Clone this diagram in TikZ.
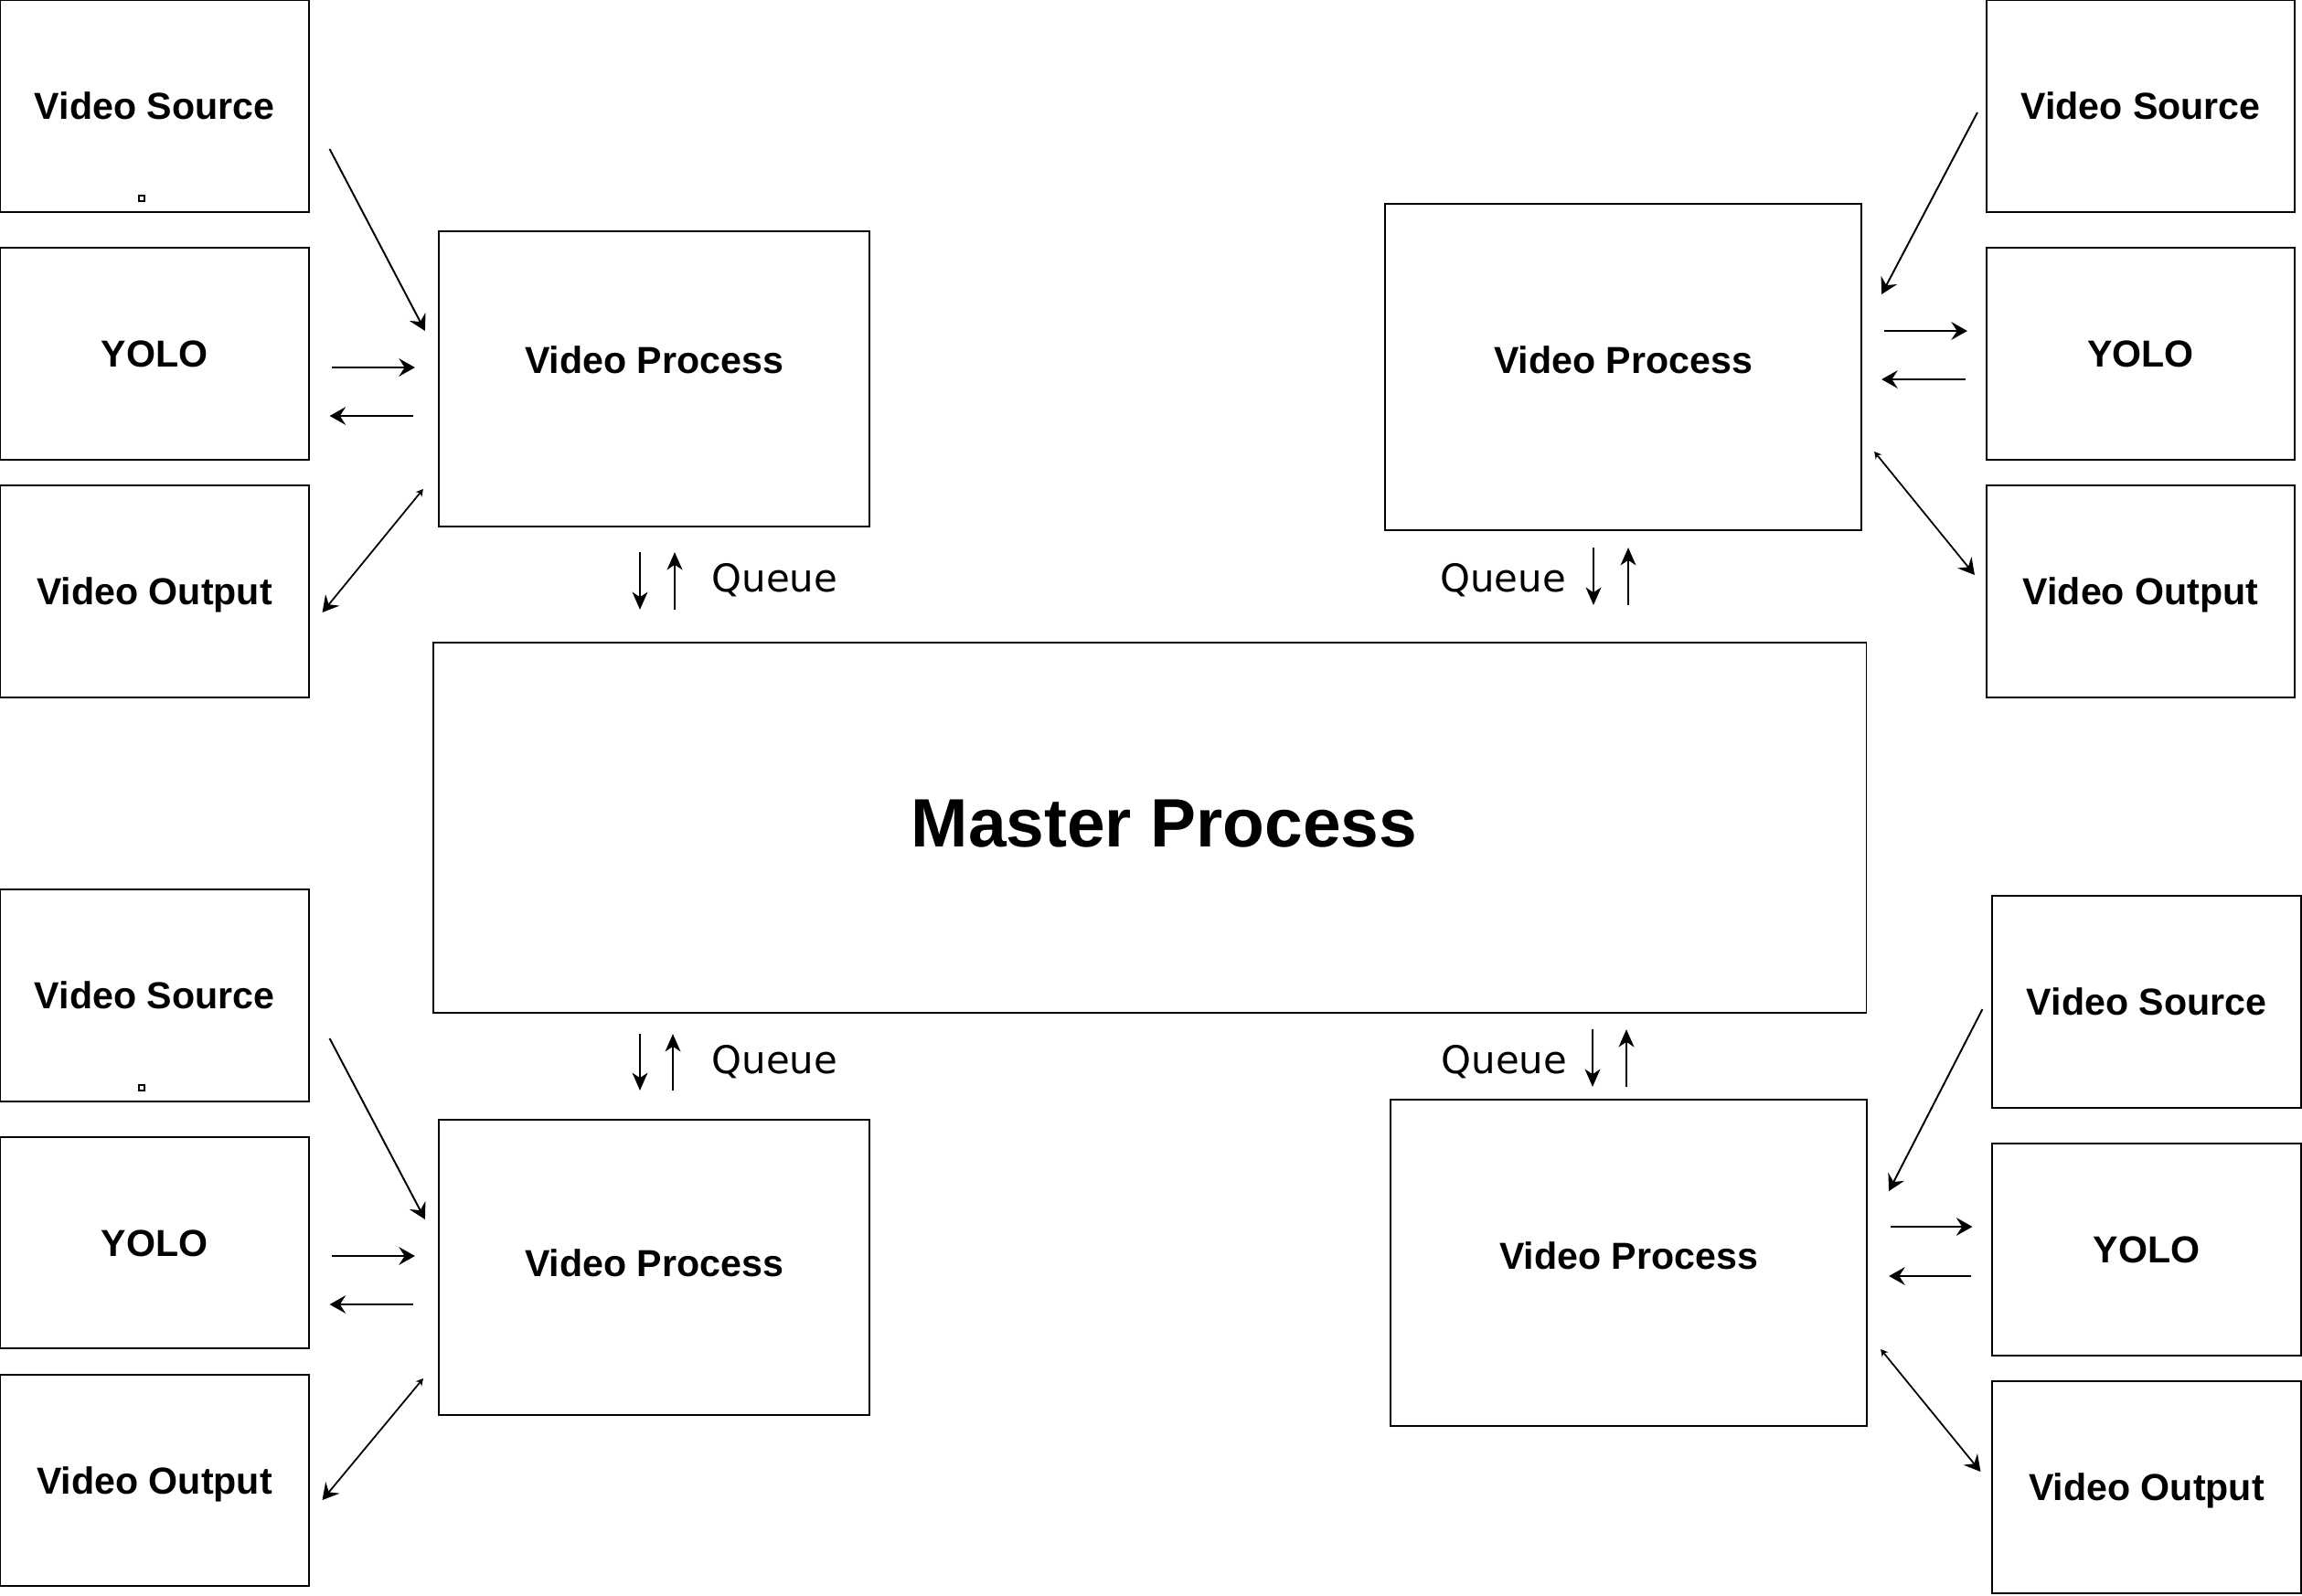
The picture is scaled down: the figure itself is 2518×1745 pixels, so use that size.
\documentclass[tikz,border=0pt]{standalone}
\usepackage{fontspec}
\setmainfont{Liberation Sans}
\newfontfamily\queuefont{DejaVu Sans}
\usetikzlibrary{arrows.meta, calc}

\tikzset{
	box/.style={draw, line width=0.55pt, inner sep=0pt, minimum width=3.37cm, minimum height=2.31cm,
		text height=8.4pt, text depth=0pt, font=\fontsize{11.7}{14}\selectfont\bfseries},
	procbox/.style={box, minimum width=4.71cm, minimum height=3.23cm},
	widebox/.style={box, minimum width=5.21cm, minimum height=3.57cm},
	flow/.style={line width=0.55pt, -{Stealth[length=5pt, width=5.6pt, inset=1.8pt]}},
	qflow/.style={line width=0.45pt, -{Stealth[length=5.5pt, width=4.8pt, inset=1.6pt]}},
	both/.style={line width=0.5pt, {Stealth[length=2.2pt, width=2.4pt]}-{Stealth[length=5pt, width=5.6pt, inset=1.8pt]}},
	qlabel/.style={anchor=base, inner sep=0pt, font=\queuefont\fontsize{11.9}{14}\selectfont}
}

\begin{document}
\begin{tikzpicture}[x=0.01cm, y=-0.01cm]

	\useasboundingbox (0,0) rectangle (2518,1745);

	% Master process in the middle
	\node[draw, line width=0.55pt, minimum width=15.67cm, minimum height=4.05cm, text height=15.3pt, text depth=0.12cm,
		font=\fontsize{21.3}{25}\selectfont\bfseries] (master) at (1257.5,905.5) {\hspace*{0.32cm}Master Process};

	% Top left group
	\node[box] (src1) at (169,116) {Video Source};
	\node[box] (yolo1) at (169,387) {YOLO};
	\node[box] (out1) at (169,647) {Video Output};
	\node[procbox, text depth=0.42cm] (vp1) at (715.5,414.5) {Video Process};
	\draw[line width=0.5pt] (152,214) rectangle (158,220);

	\draw[flow] ($(src1.east)+(22,47)$) -- ($(vp1.west)+(-14,-52.5)$);
	\draw[flow] ($(yolo1.east)+(24,15)$) -- ($(vp1.west)+(-25,-12.5)$);
	\draw[flow] ($(vp1.west)+(-27,40.5)$) -- ($(yolo1.east)+(22,68)$);
	\draw[both] ($(vp1.west)+(-16,120.5)$) -- ($(out1.east)+(14,23)$);

	\draw[qflow] ($(vp1.south)+(-15.5,27)$) -- ($(vp1.south |- master.north)+(-15.5,-35)$);
	\draw[qflow] ($(vp1.south |- master.north)+(22.5,-35)$) -- ($(vp1.south)+(22.5,27)$);
	\node[qlabel] (q1) at (847.5,647) {Queue};

	% Top right group
	\node[box] (src2) at (2341.5,116) {Video Source};
	\node[box] (yolo2) at (2341.5,387) {YOLO};
	\node[box] (out2) at (2341.5,647) {Video Output};
	\node[widebox, text depth=0.16cm] (vp2) at (1775.5,401.5) {Video Process};

	\draw[flow] ($(src2.west)+(-9,7)$) -- ($(vp2.east)+(21,-79.5)$);
	\draw[flow] ($(vp2.east)+(24,-39.5)$) -- ($(yolo2.west)+(-20,-25)$);
	\draw[flow] ($(yolo2.west)+(-22,28)$) -- ($(vp2.east)+(21,13.5)$);
	\draw[both] ($(vp2.east)+(13,92.5)$) -- ($(out2.west)+(-12,-18)$);

	\draw[qflow] ($(vp2.south)+(-32.5,18)$) -- ($(vp2.south |- master.north)+(-32.5,-40)$);
	\draw[qflow] ($(vp2.south |- master.north)+(5.5,-40)$) -- ($(vp2.south)+(5.5,18)$);
	\node[qlabel] (q2) at (1644,647) {Queue};

	% Bottom left group
	\node[box] (src3) at (169,1089) {Video Source};
	\node[box] (yolo3) at (169,1359.5) {YOLO};
	\node[box] (out3) at (169,1619.5) {Video Output};
	\node[procbox, text depth=0.1cm] (vp3) at (715.5,1386.5) {Video Process};
	\draw[line width=0.5pt] (152,1187) rectangle (158,1193);

	\draw[flow] ($(src3.east)+(22,47)$) -- ($(vp3.west)+(-14,-52.5)$);
	\draw[flow] ($(yolo3.east)+(24,14.5)$) -- ($(vp3.west)+(-25,-12.5)$);
	\draw[flow] ($(vp3.west)+(-27,40.5)$) -- ($(yolo3.east)+(22,67.5)$);
	\draw[both] ($(vp3.west)+(-16,121.5)$) -- ($(out3.east)+(14,21.5)$);

	\draw[qflow] ($(vp3.north |- master.south)+(-15.5,22)$) -- ($(vp3.north)+(-15.5,-31)$);
	\draw[qflow] ($(vp3.north)+(20.5,-31)$) -- ($(vp3.north |- master.south)+(20.5,22)$);
	\node[qlabel] (q3) at (847.5,1174) {Queue};

	% Bottom right group
	\node[box] (src4) at (2348,1096) {Video Source};
	\node[box] (yolo4) at (2348,1367) {YOLO};
	\node[box] (out4) at (2348,1627) {Video Output};
	\node[widebox, text depth=0.16cm] (vp4) at (1781.5,1381.5) {Video Process};

	\draw[flow] ($(src4.west)+(-10,8)$) -- ($(vp4.east)+(23,-78.5)$);
	\draw[flow] ($(vp4.east)+(25,-39.5)$) -- ($(yolo4.west)+(-21,-25)$);
	\draw[flow] ($(yolo4.west)+(-22,29)$) -- ($(vp4.east)+(23,14.5)$);
	\draw[both] ($(vp4.east)+(14,94.5)$) -- ($(out4.west)+(-12,-17)$);

	\draw[qflow] ($(vp4.north |- master.south)+(-39.5,17)$) -- ($(vp4.north)+(-39.5,-13)$);
	\draw[qflow] ($(vp4.north)+(-2.5,-13)$) -- ($(vp4.north |- master.south)+(-2.5,17)$);
	\node[qlabel] (q4) at (1645.5,1174) {Queue};

\end{tikzpicture}
\end{document}
